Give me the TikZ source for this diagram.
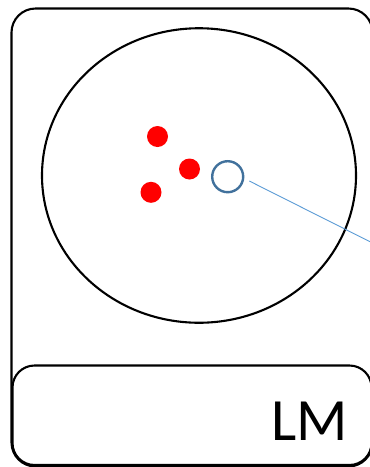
\documentclass[tikz,border=0pt]{standalone}
\usepackage{fontspec}
\setmainfont{Carlito}
\usetikzlibrary{shapes.geometric}
\definecolor{circblue}{HTML}{41719C}
\definecolor{lineblue}{HTML}{5B9BD5}
\definecolor{dotred}{HTML}{FF0000}
\begin{document}
\begin{tikzpicture}[x=1pt,y=-1pt,
  frame/.style={draw=black,line width=2.1pt,rounded corners=24pt},
  dot/.style={circle,fill=dotred,minimum size=21pt,inner sep=0pt},
  ring/.style={circle,draw=circblue,line width=2.4pt,minimum size=31pt,inner sep=0pt},
  ptr/.style={draw=lineblue,line width=0.9pt}]
\useasboundingbox (0,0) rectangle (370,467);
\draw[frame] (11.5,8.5) rectangle (372.5,466.5);
\draw[frame,rounded corners=22pt] (12.5,365.5) rectangle (371.5,465);
\node[draw=black,line width=2.1pt,ellipse,minimum width=314pt,minimum height=294.5pt,inner sep=0pt] (cell) at (199,175.5) {};
\node[dot] (d1) at (157.5,136.5) {};
\node[dot] (d2) at (189.5,169) {};
\node[dot] (d3) at (151,192.3) {};
\node[ring] (r) at (227.7,176.7) {};
\coordinate (s) at (249.3,181);
\coordinate (e) at (375,244.2);
\draw[ptr] (s) -- (e);
\node[anchor=base east,inner sep=0pt,font=\fontsize{60}{60}\selectfont] (lm) at (348,440) {LM};
\end{tikzpicture}
\end{document}
